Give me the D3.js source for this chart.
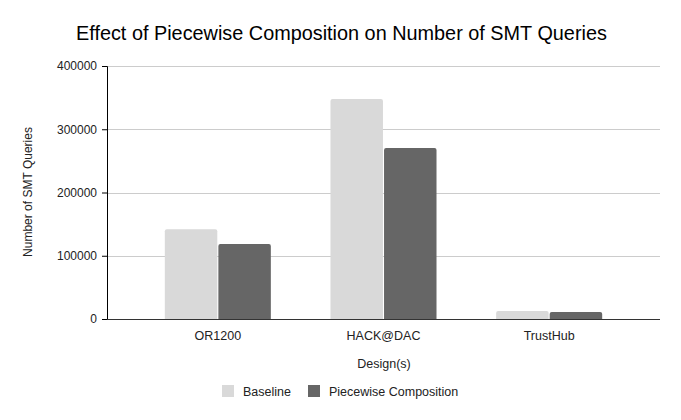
<!DOCTYPE html>
<html><head><meta charset="utf-8">
<script src="https://cdn.jsdelivr.net/npm/d3@7"></script>
<style>body{margin:0;background:#fff}svg{display:block;font-family:"Liberation Sans",Arial,sans-serif}</style>
</head><body><svg id="c" width="681" height="420"></svg>
<script>
const categories = ["OR1200", "HACK@DAC", "TrustHub"];
const seriesNames = ["Baseline", "Piecewise Composition"];
const baseline = [142000, 348000, 12500];
const piecewise = [118500, 270500, 11000];
const yTicks = [0, 100000, 200000, 300000, 400000];
const colors = ["#d9d9d9", "#666666"];

(function () {
const svg = d3.select("#c");
const mLeft = 107, mRight = 660, mTop = 66, mBottom = 319;
const y = d3.scaleLinear().domain([0, 400000]).range([mBottom, mTop]);
const x = d3.scaleBand().domain(categories).range([135, 632]).paddingInner(0.36).paddingOuter(0.18);
const xs = d3.scaleBand().domain(seriesNames).range([0, x.bandwidth()]).paddingInner(0.02);

// title
svg.append("text").attr("x", 76).attr("y", 40).attr("font-size", 19.85).attr("fill", "#000")
  .text("Effect of Piecewise Composition on Number of SMT Queries");

// gridlines
svg.append("g").selectAll("line").data(yTicks.filter(d => d > 0)).join("line")
  .attr("x1", mLeft).attr("x2", mRight).attr("y1", d => Math.round(y(d)) + 0.5).attr("y2", d => Math.round(y(d)) + 0.5)
  .attr("stroke", "#cccccc").attr("stroke-width", 1);

// y axis
const ya = svg.append("g").attr("transform", `translate(${mLeft},0)`)
  .call(d3.axisLeft(y).tickValues(yTicks).tickSize(5).tickPadding(5).tickFormat(d3.format("d")));
ya.select(".domain").attr("stroke", "#000");
ya.selectAll(".tick line").attr("stroke", "#000");
ya.selectAll("text").attr("font-size", 12).attr("fill", "#222").attr("font-family", "Liberation Sans, Arial, sans-serif");

// bars
const data = categories.map((c, i) => ({c, vals: [baseline[i], piecewise[i]]}));
const g = svg.append("g");
data.forEach(d => {
  d.vals.forEach((v, j) => {
    const bx = x(d.c) + xs(seriesNames[j]);
    const bw = xs.bandwidth();
    const by = y(v), bh = mBottom - y(v);
    const r = Math.min(2, bh / 2);
    g.append("path").attr("fill", colors[j])
      .attr("d", `M${bx},${mBottom}V${by + r}Q${bx},${by} ${bx + r},${by}H${bx + bw - r}Q${bx + bw},${by} ${bx + bw},${by + r}V${mBottom}Z`);
  });
});

// x axis line
svg.append("line").attr("x1", mLeft).attr("x2", mRight).attr("y1", mBottom + 0.5).attr("y2", mBottom + 0.5)
  .attr("stroke", "#333").attr("stroke-width", 1.2);

// x labels
svg.append("g").selectAll("text").data(categories).join("text")
  .attr("x", d => x(d) + x.bandwidth() / 2).attr("y", 340).attr("text-anchor", "middle")
  .attr("font-size", 12.5).attr("fill", "#222").text(d => d);

// axis titles
svg.append("text").attr("x", 384).attr("y", 368).attr("text-anchor", "middle")
  .attr("font-size", 12.5).attr("fill", "#222").text("Design(s)");
svg.append("text").attr("transform", "translate(32,192) rotate(-90)").attr("text-anchor", "middle")
  .attr("font-size", 12).attr("fill", "#222").text("Number of SMT Queries");

// legend
const lg = svg.append("g");
const lx = [222, 308];
seriesNames.forEach((s, j) => {
  lg.append("rect").attr("x", lx[j]).attr("y", 385).attr("width", 12).attr("height", 12).attr("fill", colors[j]);
  lg.append("text").attr("x", lx[j] + 21).attr("y", 395.5).attr("font-size", 12.5).attr("fill", "#222").text(s);
});
})();
</script></body></html>
